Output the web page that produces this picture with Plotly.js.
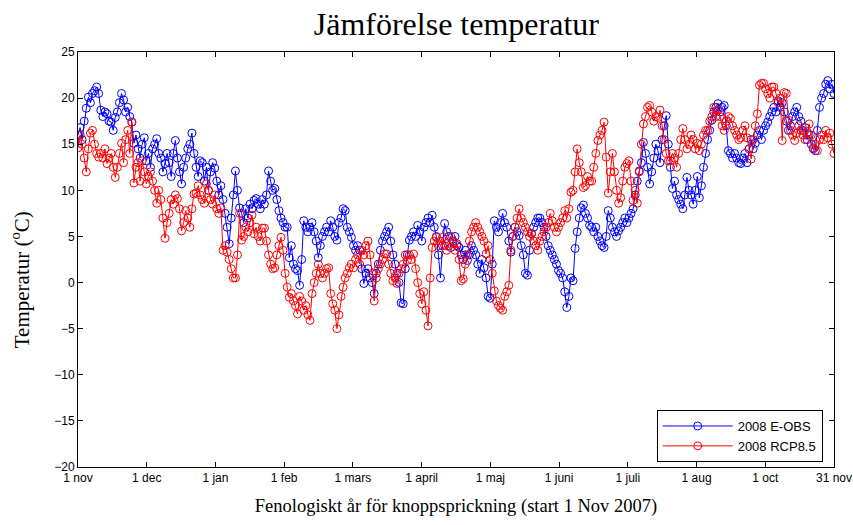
<!DOCTYPE html>
<html>
<head>
<meta charset="utf-8">
<script src="https://cdn.plot.ly/plotly-3.0.1.min.js"></script>
<style>
html,body{margin:0;padding:0;background:#fff;}
#chart{width:853px;height:525px;}
</style>
</head>
<body>
<div id="chart"></div>
<script>
// Daily temperatures, 1 Nov 2007 .. 31 Oct 2008 (day index 0..365)
const eobs2008 = [
16.0,16.8,15.5,17.5,18.9,20.1,19.5,20.5,20.8,21.2,
20.5,18.7,18.0,18.5,18.3,17.5,17.4,16.5,17.9,18.5,
19.5,20.5,19.8,18.5,19.0,18.0,17.4,15.1,16.0,14.5,
13.5,15.0,15.7,13.2,14.0,12.5,14.5,15.0,15.6,14.0,
13.5,12.0,12.9,14.0,13.0,11.5,14.0,15.4,13.5,12.0,
10.7,12.5,13.5,14.5,15.0,16.2,14.0,12.5,11.5,13.2,
13.0,11.0,12.5,10.0,12.0,13.0,12.4,11.0,9.5,10.5,
9.0,7.5,6.0,4.2,7.0,9.5,12.1,10.0,8.1,7.5,
6.5,8.0,7.0,8.5,8.0,8.9,9.1,8.5,8.0,9.0,
8.5,9.5,12.1,11.0,10.0,10.2,9.0,7.8,7.0,6.5,
6.0,6.0,2.7,4.0,2.0,1.5,1.3,-0.3,2.5,6.7,
6.0,5.5,6.0,6.5,5.5,4.5,2.7,4.0,5.0,5.5,
6.0,5.5,6.7,6.0,5.0,4.6,6.5,7.0,8.0,7.8,
6.0,5.5,4.9,4.0,3.5,4.0,3.5,1.5,-0.1,1.0,
1.5,0.5,0.0,-1.2,1.0,2.0,3.5,4.5,5.0,5.5,
6.0,4.5,3.0,2.0,1.0,0.0,-2.2,-2.3,1.5,3.0,
4.6,5.0,5.5,5.0,6.2,5.5,4.5,6.0,6.5,7.0,
6.5,7.3,6.0,5.0,3.0,0.5,4.0,6.4,5.5,5.0,
3.8,4.5,5.0,4.0,3.8,3.0,2.5,3.5,2.4,3.0,
4.0,3.5,3.0,2.0,1.0,2.5,1.6,0.5,-1.5,-1.7,
2.0,6.7,6.0,5.5,6.5,7.5,6.5,6.0,4.5,3.3,
5.0,6.0,5.5,5.1,4.0,3.0,1.0,0.8,3.5,5.3,
6.0,6.5,7.0,7.0,6.5,6.0,5.0,4.0,3.5,3.0,
2.5,2.0,1.3,1.0,0.5,-1.0,-2.7,-1.5,0.5,0.2,
3.7,5.5,7.0,8.1,8.4,7.5,7.0,6.2,6.0,5.5,
6.0,5.0,4.5,4.0,3.8,5.0,7.8,7.0,6.0,5.5,
5.0,5.6,6.0,6.5,7.0,6.5,7.0,7.5,8.0,9.5,
11.0,12.1,13.0,15.2,14.0,12.5,10.7,12.0,13.5,15.0,
14.3,13.0,15.5,17.0,18.1,15.0,12.5,10.2,11.0,9.5,
9.0,8.5,8.0,9.5,11.4,10.0,9.5,8.5,10.0,11.5,
9.2,10.5,12.5,14.0,15.5,16.5,17.6,18.5,19.0,19.4,
18.5,19.0,19.2,17.0,14.3,14.0,13.5,14.0,13.5,13.0,
12.9,13.5,14.0,13.0,14.5,15.5,14.5,15.1,16.0,16.5,
15.5,16.5,17.0,17.4,18.0,18.5,19.0,18.5,19.7,19.0,
19.5,18.5,17.5,16.5,17.0,18.0,18.5,19.0,18.0,17.5,
16.5,16.8,15.5,16.0,15.0,14.5,14.3,16.5,19.0,20.0,
20.5,21.5,21.9,21.0,21.5,20.5
];
const rcp85_2008 = [
14.6,16.0,15.0,13.5,12.0,14.5,16.2,16.5,15.0,14.0,
13.6,14.0,13.5,14.5,12.9,13.5,14.0,12.5,11.4,12.5,
14.0,15.1,13.0,15.5,16.5,14.0,17.4,10.8,12.5,13.0,
11.0,13.2,12.0,10.7,11.5,12.0,11.0,10.0,8.6,10.0,
9.0,7.0,4.8,6.5,7.5,9.0,8.5,9.5,9.1,8.0,
5.6,6.5,7.8,7.0,6.0,8.0,9.6,9.7,10.5,9.5,
9.0,8.6,10.7,10.0,9.0,8.5,9.5,8.0,7.5,8.1,
3.5,4.0,3.3,2.5,1.5,0.5,0.5,3.0,7.5,4.6,
5.0,6.0,5.5,6.5,7.3,5.3,6.0,5.0,4.5,5.9,
5.9,4.5,3.0,2.0,1.5,1.6,3.0,4.0,4.9,3.5,
1.0,-0.5,-1.6,-1.2,-2.0,-2.5,-3.4,-1.5,-2.0,-3.0,
-2.5,-3.5,-4.1,-1.2,0.0,1.0,2.0,1.0,0.5,1.0,
1.5,1.6,-1.2,-2.3,-3.0,-5.0,-3.5,-1.5,-0.5,0.5,
1.0,1.6,2.0,1.6,2.5,3.0,2.0,3.5,3.0,4.0,
4.5,3.0,1.0,-2.0,0.5,1.5,2.0,2.5,3.1,3.1,
2.0,1.0,0.2,0.5,-0.1,1.0,1.5,2.0,3.0,2.4,
3.0,2.5,3.1,1.5,0.0,-1.2,-2.3,-1.0,-3.0,-4.7,
0.5,3.8,4.5,4.9,4.0,4.5,4.9,4.0,3.5,4.0,
5.0,4.5,3.5,4.2,2.5,0.2,0.4,2.0,3.0,4.5,
5.5,6.0,6.5,6.0,5.5,5.0,4.5,3.1,4.0,2.5,
1.0,-0.9,-2.0,-2.5,-2.8,-3.0,-1.5,-1.0,-0.3,3.5,
5.0,6.0,7.0,8.0,7.0,6.5,6.0,5.5,5.0,5.3,
4.5,4.0,3.5,4.5,5.0,5.5,6.0,6.5,7.5,6.7,
6.0,5.5,6.0,6.5,7.0,7.8,7.0,8.0,9.8,10.0,
12.0,14.5,13.0,12.0,10.3,10.5,11.5,11.0,11.0,12.5,
14.0,15.4,16.0,16.5,17.4,13.6,9.7,12.0,14.0,12.0,
10.0,8.6,9.2,11.0,12.5,12.9,13.2,11.0,8.9,10.0,
8.6,12.0,15.0,17.2,18.0,19.0,19.2,18.5,17.5,18.0,
17.9,18.7,17.0,15.5,14.0,13.2,13.2,14.0,13.5,12.5,
14.0,15.5,16.7,15.5,14.5,15.0,16.0,15.5,14.5,15.1,
14.3,15.0,16.0,16.5,16.5,17.5,18.0,19.0,18.0,18.7,
18.0,17.0,16.5,17.5,18.0,17.8,17.0,16.5,16.0,15.5,
15.7,16.5,17.0,15.7,14.5,13.4,15.5,17.0,18.3,21.4,
21.6,21.6,21.0,20.5,20.0,21.2,21.2,20.5,19.5,20.0,
15.4,20.6,20.5,17.6,16.5,16.0,15.4,16.2,17.0,16.5,
16.0,15.5,16.2,17.2,16.0,14.6,15.0,14.3,15.5,16.0,
15.5,16.5,15.7,16.2,15.0,14.0
];
const xTickLabels = ["1 nov","1 dec","1 jan","1 feb","1 mars","1 april","1 maj","1 juni","1 juli","1 aug","1 oct","31 nov"];
const yTickValues = [25,20,15,10,5,0,-5,-10,-15,-20];
const seriesNames = ["2008 E-OBS","2008 RCP8.5"];

const days = eobs2008.map((_, i) => i);
const lastDay = days.length - 1;
const xTickVals = xTickLabels.map((_, i) => i * lastDay / (xTickLabels.length - 1));

function trace(y, name, color) {
  return {
    x: days, y: y, name: name, type: 'scatter', mode: 'lines+markers',
    line: {color: color, width: 1},
    marker: {symbol: 'circle-open', size: 8, color: color, line: {width: 1, color: color}}
  };
}

const data = [
  trace(eobs2008, seriesNames[0], '#0000ff'),
  trace(rcp85_2008, seriesNames[1], '#ff0000')
];

const serif = 'Liberation Serif, Times New Roman, serif';
const tickFont = {family: 'Liberation Sans, Arial, sans-serif', size: 12, color: '#000'};
const layout = {
  width: 853, height: 525,
  margin: {l: 78, r: 19, t: 52, b: 58},
  paper_bgcolor: '#fff', plot_bgcolor: '#fff',
  title: {
    text: 'Jämförelse temperatur',
    font: {family: serif, size: 32, color: '#000'},
    x: 0.535, xanchor: 'center', y: 0.955, yanchor: 'middle'
  },
  xaxis: {
    range: [0, lastDay],
    tickmode: 'array', tickvals: xTickVals, ticktext: xTickLabels,
    ticks: 'inside', ticklen: 5, tickcolor: '#000',
    showline: true, linecolor: '#000', linewidth: 1, mirror: 'ticks',
    showgrid: false, zeroline: false,
    tickfont: tickFont,
    title: {text: 'Fenologiskt år för knoppsprickning (start 1 Nov 2007)',
      font: {family: serif, size: 18.5, color: '#000'}, standoff: 14}
  },
  yaxis: {
    range: [-20, 25],
    tickmode: 'array', tickvals: yTickValues,
    ticks: 'inside', ticklen: 5, tickcolor: '#000',
    showline: true, linecolor: '#000', linewidth: 1, mirror: 'ticks',
    showgrid: false, zeroline: false,
    tickfont: tickFont
  },
  annotations: [{
    text: 'Temperatur (<sup>o</sup>C)', textangle: -90,
    xref: 'paper', yref: 'paper', x: -0.0767, y: 0.45,
    xanchor: 'center', yanchor: 'middle', showarrow: false,
    font: {family: serif, size: 21, color: '#000'}
  }],
  showlegend: true,
  legend: {
    x: 0.985, xanchor: 'right', y: 0.012, yanchor: 'bottom',
    bgcolor: '#fff', bordercolor: '#000', borderwidth: 1,
    font: {family: 'Liberation Sans, Arial, sans-serif', size: 13, color: '#000'},
    tracegroupgap: 0, itemwidth: 70
  }
};

Plotly.newPlot('chart', data, layout, {displayModeBar: false, responsive: false});
</script>
</body>
</html>
